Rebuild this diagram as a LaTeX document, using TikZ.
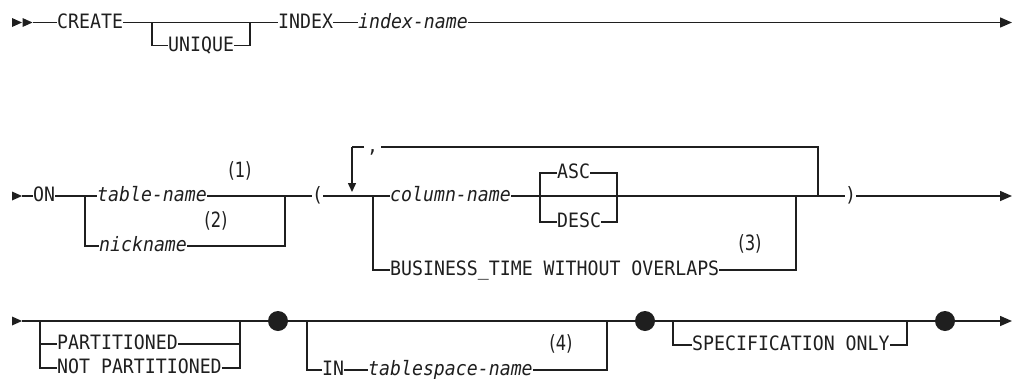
\documentclass[tikz,border=0pt]{standalone}
\usepackage{fontspec}
\usetikzlibrary{arrows.meta}
\newfontfamily\railmono[FakeStretch=0.92]{DejaVu Sans Mono}
\newfontfamily\railnote[FakeStretch=0.78]{DejaVu Sans}
\definecolor{ink}{gray}{0.12}

\begin{document}
\begin{tikzpicture}[x=1pt,y=-1pt]
 \tikzset{
  rail/.style={draw=ink, line width=1.5pt},
  end rail/.style={rail, -{Triangle[length=12pt,width=10pt]}},
  loop rail/.style={rail, -{Triangle[length=9pt,width=8pt]}},
  keyword/.style={
    font=\railmono\fontsize{19.8}{22}\selectfont,
    text=ink,
    inner sep=0pt,
    text height=13.5pt,
    text depth=2.5pt,
    anchor=west
  },
  varword/.style={keyword, font=\railmono\itshape\fontsize{19.8}{22}\selectfont},
  note/.style={font=\railnote\fontsize{21}{23}\selectfont, text=ink, inner sep=0pt},
  stop dot/.style={circle, fill=ink, minimum size=20pt, inner sep=0pt}
 }
\useasboundingbox (0,0) rectangle (1015,378);

% row 1
\fill[ink] (12,18) -- (22,22.5) -- (12,27) -- cycle;
\fill[ink] (22.5,18) -- (32.5,22.5) -- (22.5,27) -- cycle;
\coordinate (r1s) at (33,22.5);
\node[keyword] (create) at (57,22.5) {CREATE};
\coordinate (uql) at (152,22.5);
\node[keyword] (unique) at (168,45.5) {UNIQUE};
\coordinate (uqr) at (250,22.5);
\node[keyword] (index) at (278,22.5) {INDEX};
\node[varword] (indexname) at (358,22.5) {index-name};
\coordinate (r1e) at (1012,22.5);

\draw[rail] (r1s) -- (create.west);
\draw[rail] (create.east) -- (index.west);
\draw[rail] (uql) |- (unique.west);
\draw[rail] (unique.east) -| (uqr);
\draw[rail] (index.east) -- (indexname.west);
\draw[end rail] (indexname.east) -- (r1e);

% row 2
\fill[ink] (12,191.5) -- (22,196) -- (12,200.5) -- cycle;
\coordinate (r2s) at (22,196);
\node[keyword] (on) at (33,196) {ON};
\coordinate (tnl) at (85,196);
\node[varword] (tablename) at (97,196) {table-name};
\node[note] (n1) at (240,171) {(1)};
\node[varword] (nickname) at (99,246) {nickname};
\node[note] (n2) at (216,221) {(2)};
\coordinate (tnr) at (285,196);
\node[keyword] (lpar) at (312,196) {(};
\coordinate (loopl) at (352,147);
\node[keyword, inner xsep=3pt] (comma) at (364,147) {,};
\coordinate (loopr) at (818,147);
\coordinate (btl) at (373,196);
\node[varword] (colname) at (390,196) {column-name};
\coordinate (adl) at (540,196);
\node[keyword] (asc) at (557,173) {ASC};
\node[keyword] (desc) at (557,222) {DESC};
\coordinate (adr) at (617,196);
\node[keyword] (btime) at (390,270) {BUSINESS\_TIME WITHOUT OVERLAPS};
\node[note] (n3) at (750,244) {(3)};
\coordinate (btr) at (796,196);
\node[keyword] (rpar) at (845,196) {)};
\coordinate (r2e) at (1012,196);

\draw[rail] (r2s) -- (on.west);
\draw[rail] (on.east) -- (tablename.west);
\draw[rail] (tablename.east) -- (lpar.west);
\draw[rail] (tnl) |- (nickname.west);
\draw[rail] (nickname.east) -| (tnr);
\draw[rail] (lpar.east) -- (colname.west);
\draw[rail] (colname.east) -- (rpar.west);
\draw[rail] (rpar.west -| loopr) -- (loopr) -- (comma.east);
\draw[rail] (comma.west) -- (loopl);
\draw[loop rail] (loopl) -- ([yshift=4pt]loopl |- colname.west);
\draw[rail] (adl) |- (asc.west);
\draw[rail] (asc.east) -| (adr);
\draw[rail] (adl) |- (desc.west);
\draw[rail] (desc.east) -| (adr);
\draw[rail] (btl) |- (btime.west);
\draw[rail] (btime.east) -| (btr);
\draw[end rail] (rpar.east) -- (r2e);

% row 3
\fill[ink] (12,316.5) -- (22,321) -- (12,325.5) -- cycle;
\coordinate (r3s) at (22,321);
\coordinate (ptl) at (40,321);
\node[keyword] (part) at (57,344) {PARTITIONED};
\node[keyword] (notpart) at (57,368) {NOT PARTITIONED};
\coordinate (ptr) at (240,321);
\node[stop dot] (d1) at (278,321) {};
\coordinate (inl) at (307,321);
\node[keyword] (in) at (322,370) {IN};
\node[varword] (tsname) at (368,370) {tablespace-name};
\node[note] (n4) at (561,344) {(4)};
\coordinate (inr) at (607,321);
\node[stop dot] (d2) at (645,321) {};
\coordinate (spl) at (673,321);
\node[keyword] (spec) at (692,345) {SPECIFICATION ONLY};
\coordinate (spr) at (907,321);
\node[stop dot] (d3) at (945,321) {};
\coordinate (r3e) at (1012,321);

\draw[rail] (r3s) -- (d1);
\draw[rail] (d1) -- (d2);
\draw[rail] (d2) -- (d3);
\draw[end rail] (d3) -- (r3e);
\draw[rail] (ptl) |- (part.west);
\draw[rail] (part.east) -| (ptr);
\draw[rail] (ptl) |- (notpart.west);
\draw[rail] (notpart.east) -| (ptr);
\draw[rail] (inl) |- (in.west);
\draw[rail] (in.east) -- (tsname.west);
\draw[rail] (tsname.east) -| (inr);
\draw[rail] (spl) |- (spec.west);
\draw[rail] (spec.east) -| (spr);
\end{tikzpicture}
\end{document}
